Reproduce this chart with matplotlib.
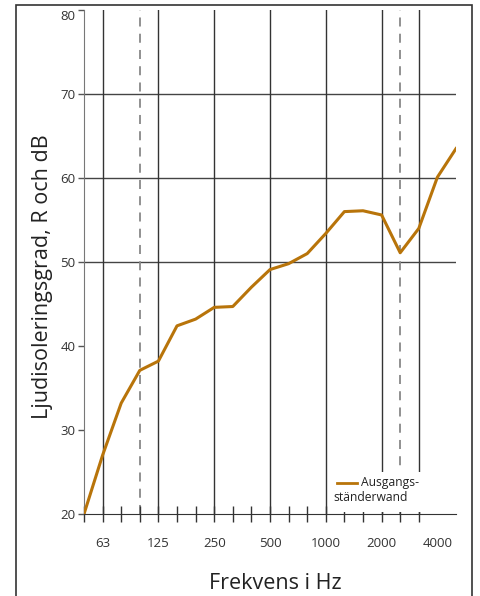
import matplotlib.pyplot as plt
from matplotlib.lines import Line2D
from matplotlib.patches import Rectangle

plt.rcParams['font.family'] = ['Open Sans', 'DejaVu Sans']

# third-octave bands, 50 Hz .. 5000 Hz
freqs = [50, 63, 80, 100, 125, 160, 200, 250, 315, 400, 500,
         630, 800, 1000, 1250, 1600, 2000, 2500, 3150, 4000, 5000]
r_values = [20.0, 27.0, 33.2, 37.1, 38.2, 42.4, 43.2, 44.6, 44.7, 47.0, 49.1,
            49.8, 51.0, 53.4, 56.0, 56.1, 55.6, 51.1, 54.0, 60.1, 63.5]
tick_labels = ['63', '125', '250', '500', '1000', '2000', '4000']
solid_lines = [63, 125, 250, 500, 1000, 2000, 3150]
dashed_lines = [100, 2500]
legend_label = ['Ausgangs-', 'ständerwand']

idx = {f: i for i, f in enumerate(freqs)}
x = list(range(len(freqs)))

fig = plt.figure(figsize=(4.81, 5.96), dpi=100)
ax = fig.add_axes([84/481, 1 - 514/596, (456-84)/481, (514-10)/596])

# frame around the whole picture
fig.patches.append(Rectangle((16/481, -0.02), (472-16)/481, 1.02 - 5/596,
                             transform=fig.transFigure, fill=False,
                             edgecolor='#333333', lw=1.2))

for y in [50, 60, 70]:
    ax.axhline(y, color='#444444', lw=1, zorder=1)
for f in solid_lines:
    ax.axvline(idx[f], color='#333333', lw=1, zorder=1)
for f in dashed_lines:
    ax.axvline(idx[f], color='#888888', lw=1.3, ls=(0, (5, 4)), zorder=1)

ax.plot(x, r_values, color='#b8740a', lw=2.2, zorder=3)

ax.set_xlim(0, 20)
ax.set_ylim(20, 80)
ax.set_yticks([20, 30, 40, 50, 60, 70, 80])
ax.set_xticks(range(0, idx[3150] + 1))
ax.set_xticklabels([])
ax.tick_params(axis='x', direction='inout', length=12, width=1, color='#333333')
ax.tick_params(axis='y', direction='out', length=4, width=1, color='#555555',
               labelsize=9.5, labelcolor='#333333', pad=2)
for lab in ax.get_yticklabels():
    if lab.get_text() == '80':
        lab.set_va('top')

for t in tick_labels:
    i = idx[int(t)]
    ax.text(i, -0.058, t, transform=ax.get_xaxis_transform(), ha='center',
            va='center', fontsize=9.5, color='#333333')

for s in ['top', 'right']:
    ax.spines[s].set_visible(False)
ax.spines['left'].set_color('#777777')
ax.spines['bottom'].set_color('#333333')

ax.set_ylabel('Ljudisoleringsgrad, R och dB', fontsize=15.5, color='#222222')
ax.set_xlabel('Frekvens i Hz', fontsize=15.5, color='#222222')
ax.yaxis.set_label_coords(-0.083, 0.47)
ax.xaxis.set_label_coords(0.513, -0.117)

# legend box
ax.add_patch(Rectangle((13.2, 20.2), 5.6, 4.8, facecolor='white',
                       edgecolor='none', zorder=2))
ax.add_line(Line2D([13.6, 14.7], [23.7, 23.7], color='#b8740a', lw=2, zorder=4))
ax.text(14.9, 23.7, legend_label[0], fontsize=8.7, va='center', ha='left',
        color='#222222', zorder=4)
ax.text(13.4, 22.0, legend_label[1], fontsize=8.7, va='center', ha='left',
        color='#222222', zorder=4)

fig.savefig('out.png', dpi=100)
